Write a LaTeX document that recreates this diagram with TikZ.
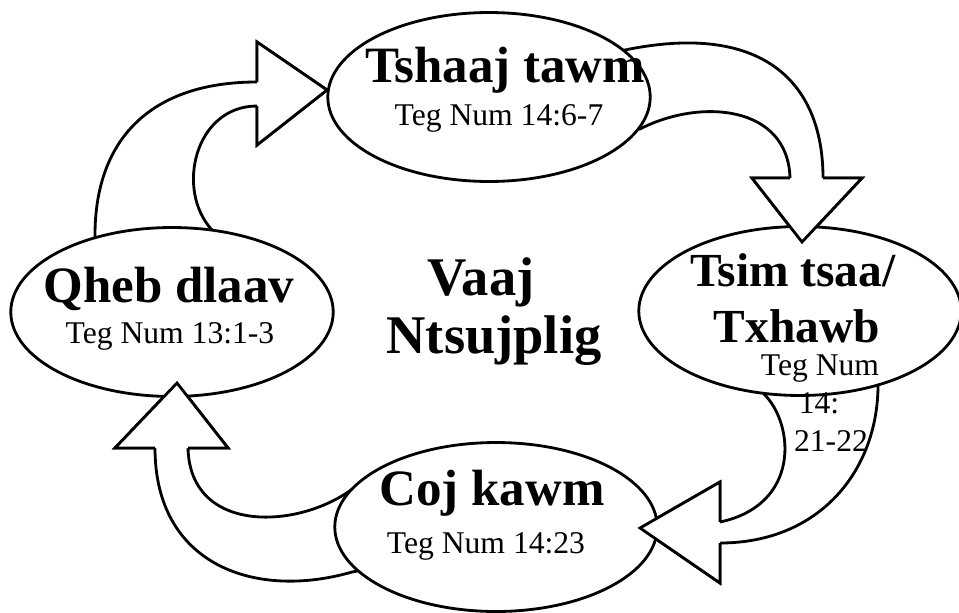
\documentclass[tikz,border=0pt]{standalone}
\usepackage{fontspec}
\setmainfont{Liberation Serif}
\usetikzlibrary{shapes.geometric}
\tikzset{%
  blob/.style={ellipse,draw,fill=white,line width=1.6pt,inner sep=0pt,
    minimum width=6.45cm,minimum height=3.38cm},
  arr/.style={draw,fill=white,line width=1.6pt,line join=miter},
  hd/.style={inner sep=0pt,anchor=base,font=\fontsize{#1}{#1}\selectfont\bfseries},
  hd/.default=29,
  rf/.style={inner sep=0pt,anchor=base,font=\fontsize{18}{20}\selectfont}
}
\NewDocumentCommand\headover{mmmmm}{%
  \fill[white] (#1) -- (#2) -- (#3) -- (#4) -- (#5) -- cycle;
  \draw[line width=1.6pt,line join=miter] (#1) -- (#2) -- (#3) -- (#4) -- (#5);
}

\begin{document}
\begin{tikzpicture}[x=0.02cm,y=-0.02cm]
  \useasboundingbox (0,0) rectangle (959,612);
  % Arrow points
  \coordinate (a0) at (95,262);
  \coordinate (a1) at (95,235);
  \coordinate (a2) at (257,82);
  \coordinate (a3) at (257,42);
  \coordinate (a4) at (327,90);
  \coordinate (a5) at (257,145);
  \coordinate (a6) at (257,106);
  \coordinate (a7) at (212,230);
  \coordinate (a8) at (212,262);
  %
  \coordinate (c0) at (600,90);
  \coordinate (c1) at (625,50);
  \coordinate (c2) at (823,178);
  \coordinate (c3) at (862,178);
  \coordinate (c4) at (802,242);
  \coordinate (c5) at (752,178);
  \coordinate (c6) at (790,178);
  \coordinate (c7) at (640,129);
  %
  \coordinate (d0) at (765,360);
  \coordinate (d1) at (764,394);
  \coordinate (d2) at (720,522);
  \coordinate (d3) at (720,482);
  \coordinate (d4) at (640,528);
  \coordinate (d5) at (720,583);
  \coordinate (d6) at (720,543);
  \coordinate (d7) at (878,385);
  \coordinate (d8) at (878,360);
  %
  \coordinate (f0) at (390,500);
  \coordinate (f1) at (355,487);
  \coordinate (f2) at (188,448);
  \coordinate (f3) at (228,448);
  \coordinate (f4) at (177,383);
  \coordinate (f5) at (115,448);
  \coordinate (f6) at (155,448);
  \coordinate (f7) at (352,572);
  \coordinate (f8) at (390,565);
  % Arrows
  \path[arr] (a0) -- (a1) .. controls (95,140) and (150,82) .. (a2) -- (a3) -- (a4)
    -- (a5) -- (a6) .. controls (195,106) and (175,190) .. (a7) -- (a8) -- cycle;
  \path[arr] (c0) -- (c1) .. controls (760,22) and (823,80) .. (c2) -- (c3) -- (c4)
    -- (c5) -- (c6) .. controls (788,105) and (700,98) .. (c7) -- cycle;
  \path[arr] (d0) -- (d1) .. controls (795,425) and (800,505) .. (d2) -- (d3) -- (d4)
    -- (d5) -- (d6) .. controls (820,543) and (878,470) .. (d7) -- (d8) -- cycle;
  \path[arr] (f0) -- (f1) .. controls (300,530) and (190,535) .. (f2) -- (f3) -- (f4)
    -- (f5) -- (f6) .. controls (155,565) and (255,600) .. (f7) -- (f8) -- cycle;
  % Ellipses
  \node[blob] (e0) at (489,97) {};
  \node[blob] (e1) at (800,311) {};
  \node[blob] (e2) at (496,527) {};
  \node[blob] (e3) at (172,312) {};
  % Heads on top
  \headover{a2}{a3}{a4}{a5}{a6}
  \headover{c6}{c5}{c4}{c3}{c2}
  \headover{d2}{d3}{d4}{d5}{d6}
  \headover{f2}{f3}{f4}{f5}{f6}
  % Texts
  \node[hd] (t0) at (505,82) {Tshaaj tawm};
  \node[rf] (r0) at (499,125) {Teg Num 14:6-7};
  \node[hd=27] (t1) at (793,286) {Tsim tsaa/};
  \node[hd=27] (t1b) at (797,342) {Txhawb};
  \node[rf] (r1) at (820,375) {Teg Num};
  \node[rf] (r1b) at (819,413) {14:};
  \node[rf] (r1c) at (831,451) {21-22};
  \node[hd] (t2) at (492,505) {Coj kawm};
  \node[rf] (r2) at (486,553) {Teg Num 14:23};
  \node[hd] (t3) at (169,302) {Qheb dlaav};
  \node[rf] (r3) at (170,343) {Teg Num 13:1-3};
  \node[hd=31] (v0) at (481,295) {Vaaj};
  \node[hd=31] (v1) at (494,353) {Ntsujplig};
\end{tikzpicture}
\end{document}
